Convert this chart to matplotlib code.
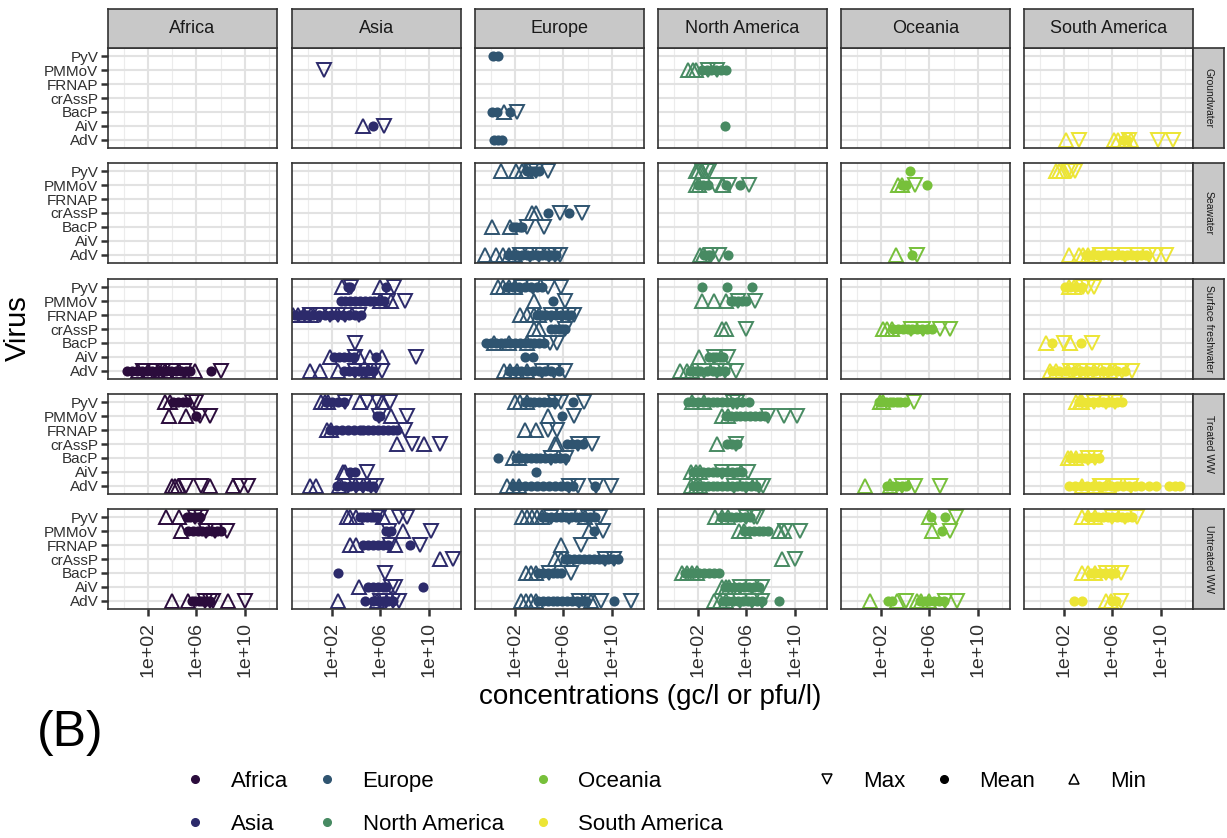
import numpy as np
import matplotlib.pyplot as plt
from matplotlib.lines import Line2D
from matplotlib.ticker import NullFormatter

plt.rcParams['font.family'] = ['Liberation Sans', 'DejaVu Sans']

# facets and categories
continents = ["Africa", "Asia", "Europe", "North America", "Oceania", "South America"]
colors = ["#2b0c3c", "#2c2a6b", "#2f5470", "#478a62", "#77c03a", "#ece535"]
water_types = ["Groundwater", "Seawater", "Surface freshwater", "Treated WW", "Untreated WW"]
viruses = ["AdV", "AiV", "BacP", "crAssP", "FRNAP", "PMMoV", "PyV"]
tick_vals = [1e2, 1e6, 1e10]
tick_labels = ["1e+02", "1e+06", "1e+10"]

# values, log10 of concentration (gc/l or pfu/l)
# continent -> virus -> (min, mean, max)
groundwater = {
    "Asia": {"PMMoV": ([], [], [1.3]),
             "AiV": ([4.6], [5.4], [6.3])},
    "Europe": {"PyV": ([], [0.2, 0.6], []),
               "BacP": ([1.1], [0.1, 0.5, 1.6], [2.2]),
               "AdV": ([], [0.3, 0.6, 0.9], [])},
    "North America": {"PMMoV": ([1.2, 1.6, 1.8], [2.3, 2.7, 3.1, 3.5, 3.9, 4.3], [2.8, 3.6]),
                      "AiV": ([], [4.2], [])},
    "South America": {"AdV": ([2.2, 6.1, 6.5, 7.0, 7.5], [6.9, 7.2], [3.2, 7.4, 9.8, 11.0])},
}

seawater = {
    "Europe": {"PyV": ([0.8, 2.1, 2.6, 2.9], [3.0, 3.3, 3.6, 4.0], [3.3, 3.7, 4.7]),
               "crAssP": ([3.4, 3.7], [4.7, 6.5], [5.7, 7.5]),
               "BacP": ([0.1, 1.6], [1.8, 2.1, 2.4, 2.6], [3.0, 4.4]),
               "AdV": ([-0.5, 0.4, 1.0, 1.5, 2.0],
                       [1.4, 1.8, 2.2, 2.6, 3.0, 3.4, 3.8, 4.2, 4.6, 5.0, 5.4],
                       [2.4, 3.2, 4.0, 4.8, 5.3, 5.7])},
    "North America": {"PyV": ([1.8, 2.0, 2.3], [], [2.3, 2.7, 2.9]),
                      "PMMoV": ([1.8, 2.1, 4.1], [2.0, 2.4, 2.8, 4.3, 5.5], [3.4, 4.6, 6.2]),
                      "AdV": ([2.2, 2.4], [2.5, 2.8, 3.0, 4.5], [3.1, 3.7])},
    "Oceania": {"PyV": ([], [4.4], []),
                "PMMoV": ([3.4, 3.7], [3.7, 4.1, 5.8], [4.8]),
                "AdV": ([3.2], [4.6], [5.0])},
    "South America": {"PyV": ([1.3, 1.6, 1.9], [], [2.3, 2.6, 2.9]),
                      "AdV": ([2.4, 3.2, 3.6, 4.0, 4.5],
                              [3.8, 4.3, 4.8, 5.2, 5.6, 6.0, 6.4, 6.8, 7.2, 7.6, 8.0, 8.4, 8.8],
                              [5.0, 6.0, 7.0, 8.0, 9.0, 9.6, 10.4])},
}

surface = {
    "Africa": {"AdV": ([1.2, 2.0, 2.8, 3.4, 4.6, 5.9],
                       [0.3, 0.7, 1.1, 1.5, 1.9, 2.3, 2.7, 3.1, 3.5, 3.9, 4.3, 4.7, 5.1, 5.5, 7.2],
                       [1.6, 2.6, 3.2, 4.0, 5.0, 8.0])},
    "Asia": {"PyV": ([2.8, 6.0], [3.3, 3.5, 6.5], [3.6, 7.1]),
             "PMMoV": ([6.0, 6.9], [2.7, 3.1, 3.5, 3.9, 4.3, 4.7, 5.1, 5.5, 5.9, 6.3], [6.6, 8.0]),
             "FRNAP": ([-1.2, -0.8, -0.3, 0.3],
                       [-1.1, -0.6, -0.1, 0.4, 0.9, 1.4, 1.9, 2.4, 2.9, 3.4, 3.9, 4.4],
                       [0.2, 1.0, 1.8, 2.5, 3.1, 4.2]),
             "BacP": ([], [], [3.9]),
             "AiV": ([1.8, 4.2, 5.1, 6.1], [2.2, 2.6, 3.0, 3.4, 3.8, 5.6], [3.9, 8.9]),
             "AdV": ([0.2, 1.0, 2.5, 5.0], [3.0, 3.4, 3.8, 4.2, 4.6, 5.0, 5.4], [3.9, 4.8, 5.5, 6.1])},
    "Europe": {"PyV": ([0.6, 1.0, 1.5, 2.0], [1.3, 1.8, 2.3, 2.8, 3.3, 3.8, 4.2], [2.5, 3.5, 4.7, 5.8]),
               "PMMoV": ([3.6], [5.1], [6.1]),
               "FRNAP": ([2.4, 3.0, 3.6, 4.0], [3.8, 4.2, 4.6, 5.0, 5.4, 5.8, 6.2, 6.6], [5.0, 5.9, 6.5, 6.9]),
               "crAssP": ([3.6, 4.0], [5.0, 5.3, 5.6, 5.9, 6.1], [6.1]),
               "BacP": ([0.3, 1.5, 3.0],
                        [-0.4, 0.0, 0.4, 0.8, 1.2, 1.6, 2.0, 2.4, 2.8, 3.2, 3.6, 4.0, 4.4],
                        [4.9, 5.5]),
               "AiV": ([], [2.8, 3.5], []),
               "AdV": ([1.1, 1.6, 2.2, 3.0], [1.5, 2.0, 2.5, 3.0, 3.5, 4.0, 4.5, 5.0, 5.6], [4.2, 5.2, 6.1])},
    "North America": {"PyV": ([], [2.3, 4.4, 6.5], []),
                      "PMMoV": ([2.3, 3.3, 4.3], [4.7, 5.0, 5.3, 5.6, 6.0], [5.3, 6.7]),
                      "crAssP": ([4.0, 4.3], [], [6.0]),
                      "AiV": ([2.1], [2.9, 3.2, 3.5, 3.8, 4.1], [3.3, 4.5]),
                      "AdV": ([0.5, 1.1, 1.5], [1.3, 1.8, 2.2, 2.7, 3.2, 3.7, 4.2], [2.5, 3.6, 4.2, 5.1])},
    "Oceania": {"crAssP": ([2.2, 2.5, 2.9], [3.0, 3.4, 3.8, 4.2, 4.6, 5.0, 5.4, 5.8, 6.2], [4.5, 5.5, 6.9, 7.7])},
    "South America": {"PyV": ([2.4, 2.8], [2.1, 2.5, 3.0, 3.5], [3.6, 4.0, 4.5]),
                      "BacP": ([0.5, 2.5], [1.0, 3.4], [2.0, 4.3]),
                      "AdV": ([0.8, 1.3, 2.3, 3.2, 4.5, 5.8],
                              [1.0, 1.6, 2.2, 2.8, 3.4, 4.0, 4.6, 5.2, 5.8, 6.4, 7.0],
                              [2.5, 3.3, 4.4, 5.6, 6.8, 7.6])},
}

treated = {
    "Africa": {"PyV": ([3.4, 3.8], [4.1, 4.5, 4.9, 5.2], [5.6, 6.0]),
               "PMMoV": ([3.7, 5.1], [6.0], [6.3, 7.1]),
               "AdV": ([4.0, 4.2, 4.5, 7.1, 9.0], [], [5.1, 6.4, 9.6, 10.3])},
    "Asia": {"PyV": ([1.1, 1.4, 1.7, 4.3, 6.1], [1.5, 2.0, 2.5, 3.0], [3.1, 4.9, 5.8, 6.8]),
             "PMMoV": ([6.9], [5.7, 6.0], [5.9, 8.2]),
             "FRNAP": ([1.6, 1.9],
                       [1.8, 2.3, 2.8, 3.3, 3.8, 4.3, 4.6, 5.0, 5.4, 5.8, 6.2, 6.6, 7.0, 7.4],
                       [8.0]),
             "crAssP": ([7.4, 9.6], [], [8.6, 10.9]),
             "AiV": ([2.9, 3.1], [3.5, 3.9], [4.9]),
             "AdV": ([0.2, 0.7, 2.6], [2.4, 3.0, 3.5, 4.0, 4.5, 5.0, 5.4], [3.3, 4.0, 4.6, 5.2, 5.6])},
    "Europe": {"PyV": ([2.0, 2.4, 3.0], [2.8, 3.2, 3.6, 4.0, 4.4, 4.8, 5.2, 6.8], [5.3, 5.8, 7.7]),
               "PMMoV": ([4.7], [5.9], [6.9]),
               "FRNAP": ([2.8, 3.7], [], [4.7, 5.5]),
               "crAssP": ([5.3, 5.5], [6.3, 6.7, 7.1, 7.6], [7.2, 8.4]),
               "BacP": ([1.8, 2.3],
                        [0.6, 2.1, 2.5, 2.9, 3.3, 3.7, 4.1, 4.5, 4.9, 5.3, 5.7, 6.1],
                        [5.0, 6.2]),
               "AiV": ([], [3.7], []),
               "AdV": ([1.3, 1.8, 2.3],
                       [1.8, 2.3, 2.8, 3.3, 3.8, 4.3, 4.8, 5.3, 5.8, 6.3, 6.8, 8.6],
                       [6.5, 7.2, 8.7, 9.9])},
    "North America": {"PyV": ([1.5, 2.5],
                              [1.2, 1.6, 2.0, 2.4, 2.8, 3.2, 3.6, 4.0, 4.4, 4.8, 5.2, 5.6, 6.2],
                              [4.9, 5.2]),
                      "PMMoV": ([4.0, 4.5], [4.3, 4.7, 5.1, 5.5, 5.9, 6.3, 6.7, 7.1, 7.5], [7.8, 9.1, 10.2]),
                      "crAssP": ([3.6], [4.4, 4.8, 5.2], [5.1]),
                      "AiV": ([1.4, 1.8, 2.2],
                              [1.6, 2.0, 2.4, 2.8, 3.2, 3.6, 4.0, 4.4, 4.8, 5.2, 5.6],
                              [4.0, 5.0, 6.1]),
                      "AdV": ([1.4, 1.8, 2.2],
                              [1.6, 2.0, 2.4, 2.8, 3.2, 3.6, 4.0, 4.4, 4.8, 5.2, 5.6, 6.0, 6.4, 6.8],
                              [5.0, 6.0, 7.0, 7.4])},
    "Oceania": {"PyV": ([1.9, 2.2], [1.8, 2.1, 2.4, 2.7, 3.0, 3.3, 3.6, 4.0], [4.7]),
                "AdV": ([0.7, 2.7], [2.5, 2.9, 3.3, 3.7, 4.1], [3.7, 4.8, 6.9])},
    "South America": {"PyV": ([3.0, 3.3, 3.5], [3.2, 3.6, 4.0, 4.4, 4.8, 5.2, 5.6, 6.0, 6.4, 6.8], [4.5, 5.5, 6.2]),
                      "BacP": ([2.3, 2.6, 3.0], [2.5, 2.9, 3.3, 3.7, 4.1, 4.5, 4.9], [4.0, 4.6]),
                      "AdV": ([3.5, 4.6, 5.7],
                              [2.4, 2.9, 3.4, 3.9, 4.4, 4.9, 5.4, 5.9, 6.4, 6.9, 7.4, 7.9, 8.4,
                               9.0, 9.6, 10.7, 11.2, 11.6],
                              [5.0, 6.2, 7.5])},
}

untreated = {
    "Africa": {"PyV": ([3.5, 4.6], [5.2, 5.5, 5.8, 6.1, 6.3], [5.9, 6.4]),
               "PMMoV": ([4.7], [5.3, 5.7, 6.1, 6.5, 6.9, 7.3, 7.7, 8.0], [6.8, 7.5, 8.5]),
               "AdV": ([3.95, 5.3, 8.6], [5.6, 5.9, 6.2, 6.5, 6.8, 7.1], [6.7, 7.1, 7.4, 10.0])},
    "Asia": {"PyV": ([3.2, 3.5, 4.0, 6.2], [4.3, 4.6, 4.9, 5.2, 5.5, 5.7], [5.9, 7.5, 8.2]),
             "PMMoV": ([7.9], [6.5, 6.9], [6.7, 10.2]),
             "FRNAP": ([3.5, 4.0, 7.2], [4.6, 5.0, 5.4, 5.8, 6.2, 6.6, 8.45], [6.8, 9.3]),
             "crAssP": ([10.9], [], [12.0]),
             "BacP": ([], [2.5], [6.4]),
             "AiV": ([4.2], [5.0, 5.4, 5.8, 6.2, 6.5, 9.55], [6.9, 7.2]),
             "AdV": ([2.5, 5.7], [4.7, 5.4, 5.8, 6.2, 6.6, 7.0], [6.0, 6.5, 7.0, 7.5])},
    "Europe": {"PyV": ([2.6, 3.0, 3.4, 3.8, 4.2, 7.8],
                       [4.2, 4.6, 5.0, 5.4, 5.8, 6.2, 6.6, 7.0, 7.4, 7.8, 8.2, 8.6],
                       [5.0, 6.5, 8.0, 9.0]),
               "PMMoV": ([8.1], [8.55], [9.25]),
               "FRNAP": ([5.8], [], [7.45]),
               "crAssP": ([5.3, 5.8, 6.3],
                          [6.1, 6.5, 6.9, 7.3, 7.7, 8.1, 8.5, 8.9, 9.3, 9.7, 10.1, 10.5],
                          [9.4, 10.2]),
               "BacP": ([2.9, 3.3, 3.7], [3.9, 4.3, 4.7, 5.1, 5.5, 5.8], [4.8, 6.6]),
               "AdV": ([2.5, 2.9, 3.3, 3.7, 8.3],
                       [3.9, 4.3, 4.7, 5.1, 5.5, 5.9, 6.3, 6.7, 7.1, 7.5, 7.9, 10.2],
                       [7.3, 8.0, 9.1, 11.6])},
    "North America": {"PyV": ([3.4, 4.0, 4.5], [3.9, 4.3, 4.7, 5.1, 5.5, 5.9, 6.3], [6.0, 6.6, 6.9]),
                      "PMMoV": ([5.4, 5.8, 8.7, 9.1], [5.8, 6.2, 6.6, 7.0, 7.4, 7.8], [9.2, 10.45]),
                      "crAssP": ([8.9], [], [10.0]),
                      "BacP": ([0.7, 1.1, 1.5, 1.9], [0.9, 1.3, 1.7, 2.1, 2.5, 2.9, 3.3, 3.7], []),
                      "AiV": ([4.0, 4.3, 4.6], [4.2, 4.6, 5.0, 5.4, 5.8, 6.2, 6.6, 7.0], [5.5, 6.5, 7.3]),
                      "AdV": ([3.3, 3.8, 4.3], [4.1, 4.5, 4.9, 5.3, 5.7, 6.1, 6.5, 6.9, 7.3, 8.7],
                              [5.5, 6.5, 7.3])},
    "Oceania": {"PyV": ([6.0], [6.1, 7.3], [8.2]),
                "PMMoV": ([6.2], [7.0], [7.7]),
                "AdV": ([1.1, 3.3, 5.0, 5.3, 6.0], [2.6, 2.9, 5.2, 5.6, 6.0, 6.4, 6.8, 7.2], [4.1, 7.3, 8.3])},
    "South America": {"PyV": ([3.5, 4.0, 4.6], [4.0, 4.4, 4.8, 5.2, 5.6, 6.0, 6.4, 6.8, 7.2, 7.6],
                              [6.0, 7.0, 8.05]),
                      "BacP": ([3.5, 4.0, 4.6], [4.2, 4.6, 5.0, 5.4, 5.8, 6.2], [5.5, 6.0, 6.7]),
                      "AdV": ([5.45, 5.9], [2.8, 3.5, 6.0, 6.3], [6.7])},
}

panels_by_row = [groundwater, seawater, surface, treated, untreated]

W, H = 1227, 838
fig = plt.figure(figsize=(W / 100, H / 100), dpi=100)


def rect(x0, y0, w, h):
    return [x0 / W, 1 - (y0 + h) / H, w / W, h / H]


col_x = [108, 292, 475, 658, 841, 1024]
row_y = [48, 163, 279, 394, 509]
pw, ph = 169, 100
border = "#333333"
tri_ms, dot_ms = 9.5, 7.3

for r, wt in enumerate(water_types):
    data = panels_by_row[r]
    for c, cont in enumerate(continents):
        ax = fig.add_axes(rect(col_x[c], row_y[r], pw, ph))
        ax.set_xscale("log")
        ax.set_xlim(10 ** -1.31, 10 ** 12.66)
        ax.set_ylim(-0.6, 6.6)
        ax.set_xticks(tick_vals)
        ax.set_xticks([1e0, 1e4, 1e8, 1e12], minor=True)
        ax.xaxis.set_minor_formatter(NullFormatter())
        ax.set_yticks(range(len(viruses)))
        ax.set_axisbelow(True)
        ax.grid(which="major", color="#e2e2e2", lw=1.5)
        ax.grid(which="minor", axis="x", color="#ececec", lw=0.8)
        ax.tick_params(which="minor", length=0)
        for s in ax.spines.values():
            s.set_color(border)
            s.set_linewidth(1.2)

        if c == 0:
            ax.set_yticklabels(viruses)
            ax.tick_params(axis="y", length=5, width=1.8, color="#333333",
                           labelsize=11, labelcolor="#303030", pad=2)
        else:
            ax.tick_params(axis="y", length=0, labelleft=False)
        if r == len(water_types) - 1:
            ax.set_xticklabels(tick_labels)
            ax.tick_params(axis="x", which="major", length=5, width=1.8, color="#333333",
                           labelsize=14, labelcolor="#303030", labelrotation=90, pad=4)
        else:
            ax.tick_params(axis="x", which="major", length=0, labelbottom=False)

        col = colors[c]
        for vname, (mins, means, maxs) in data.get(cont, {}).items():
            yv = viruses.index(vname)
            if mins:
                ax.plot(10 ** np.array(mins), [yv] * len(mins), ls="none", marker="^",
                        ms=tri_ms, mfc="none", mec=col, mew=1.4)
            if means:
                ax.plot(10 ** np.array(means), [yv] * len(means), ls="none", marker="o",
                        ms=dot_ms, mfc=col, mec=col, mew=0)
            if maxs:
                ax.plot(10 ** np.array(maxs), [yv] * len(maxs), ls="none", marker="v",
                        ms=tri_ms, mfc="none", mec=col, mew=1.4)

        # top strips
        if r == 0:
            sax = fig.add_axes(rect(col_x[c], 9, pw, 39))
            sax.set_facecolor("#c8c8c8")
            sax.set_xticks([])
            sax.set_yticks([])
            for s in sax.spines.values():
                s.set_color(border)
                s.set_linewidth(1.2)
            sax.text(0.5, 0.5, cont, ha="center", va="center", fontsize=13,
                     color="#1a1a1a", transform=sax.transAxes)

    # right strips
    rax = fig.add_axes(rect(1193, row_y[r], 31, ph))
    rax.set_facecolor("#c8c8c8")
    rax.set_xticks([])
    rax.set_yticks([])
    for s in rax.spines.values():
        s.set_color(border)
        s.set_linewidth(1.2)
    rax.text(0.5, 0.5, wt, ha="center", va="center", rotation=-90, fontsize=7.5,
             color="#1a1a1a", transform=rax.transAxes)

fig.text(18 / W, 1 - 328 / H, "Virus", rotation=90, ha="center", va="center", fontsize=21)
fig.text(650 / W, 1 - 697 / H, "concentrations (gc/l or pfu/l)", ha="center", va="center",
         fontsize=20)
fig.text(70 / W, 1 - 733 / H, "(B)", ha="center", va="center", fontsize=36)

# legends
color_handles = [Line2D([], [], ls="none", marker="o", ms=5.5, color=cc) for cc in colors]
fig.legend(color_handles, continents, ncol=3, loc="upper left",
           bbox_to_anchor=(182 / W, 1 - 771 / H), frameon=False, fontsize=16,
           handlelength=1.2, handletextpad=1.0, columnspacing=1.15,
           labelspacing=1.0, borderpad=0, borderaxespad=0)
shape_handles = [
    Line2D([], [], ls="none", marker="v", ms=7, mfc="none", mec="black", mew=1.1),
    Line2D([], [], ls="none", marker="o", ms=5.5, color="black"),
    Line2D([], [], ls="none", marker="^", ms=7, mfc="none", mec="black", mew=1.1),
]
fig.legend(shape_handles, ["Max", "Mean", "Min"], ncol=3, loc="upper left",
           bbox_to_anchor=(814 / W, 1 - 771 / H), frameon=False, fontsize=16,
           handlelength=1.2, handletextpad=1.0, columnspacing=1.15,
           borderpad=0, borderaxespad=0)

fig.savefig("out.png", dpi=100)
